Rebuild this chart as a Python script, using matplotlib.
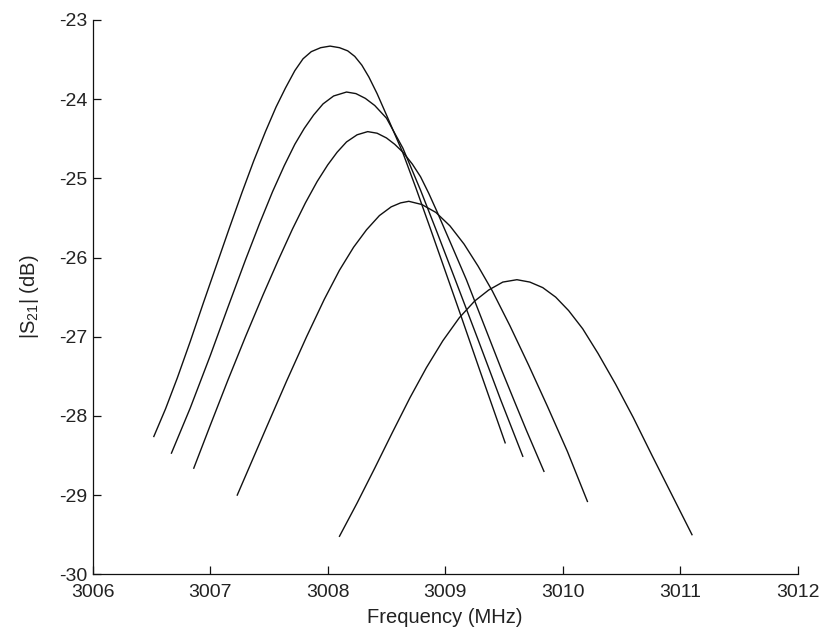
import matplotlib
matplotlib.use("Agg")
import matplotlib.pyplot as plt

plt.rcParams['font.family'] = ['Liberation Sans', 'DejaVu Sans']

# Curve data (frequency in MHz, |S21| in dB)
freq_a = [3006.52, 3006.62, 3006.72, 3006.83, 3006.94, 3007.05, 3007.16, 3007.27, 3007.37,
          3007.47, 3007.56, 3007.64, 3007.72, 3007.79, 3007.86, 3007.94, 3008.02, 3008.10,
          3008.17, 3008.23, 3008.29, 3008.35, 3008.42, 3008.50, 3008.64, 3008.75, 3008.87,
          3009.00, 3009.13, 3009.30, 3009.51]
s21_a = [-28.26, -27.91, -27.52, -27.06, -26.58, -26.11, -25.64, -25.18, -24.78,
         -24.41, -24.10, -23.86, -23.64, -23.49, -23.40, -23.35, -23.33, -23.35,
         -23.39, -23.46, -23.57, -23.72, -23.93, -24.20, -24.68, -25.12, -25.62,
         -26.17, -26.72, -27.45, -28.34]

freq_b = [3006.67, 3006.83, 3007.00, 3007.15, 3007.30, 3007.42, 3007.53, 3007.63, 3007.72,
          3007.80, 3007.88, 3007.96, 3008.05, 3008.16, 3008.24, 3008.32, 3008.40, 3008.50,
          3008.64, 3008.79, 3008.93, 3009.08, 3009.28, 3009.47, 3009.66]
s21_b = [-28.47, -27.90, -27.24, -26.63, -26.03, -25.57, -25.17, -24.84, -24.57,
         -24.37, -24.20, -24.06, -23.96, -23.91, -23.93, -23.99, -24.08, -24.24,
         -24.62, -25.15, -25.68, -26.26, -27.04, -27.79, -28.51]

freq_c = [3006.86, 3007.00, 3007.15, 3007.30, 3007.45, 3007.58, 3007.70, 3007.81, 3007.91,
          3008.00, 3008.08, 3008.16, 3008.25, 3008.34, 3008.42, 3008.50, 3008.57, 3008.64,
          3008.72, 3008.79, 3008.86, 3008.93, 3009.07, 3009.18, 3009.28, 3009.38, 3009.48,
          3009.59, 3009.69, 3009.84]
s21_c = [-28.66, -28.12, -27.55, -27.00, -26.47, -26.03, -25.64, -25.31, -25.04,
         -24.83, -24.67, -24.54, -24.45, -24.41, -24.43, -24.49, -24.57, -24.67,
         -24.82, -24.98, -25.19, -25.42, -25.90, -26.28, -26.66, -27.04, -27.42,
         -27.82, -28.18, -28.70]

freq_d = [3007.23, 3007.48, 3007.65, 3007.82, 3007.97, 3008.10, 3008.22, 3008.33, 3008.44,
          3008.54, 3008.62, 3008.69, 3008.80, 3008.92, 3009.04, 3009.16, 3009.28, 3009.40,
          3009.55, 3009.71, 3009.87, 3010.04, 3010.21]
s21_d = [-29.00, -28.14, -27.56, -27.00, -26.53, -26.16, -25.87, -25.65, -25.47,
         -25.36, -25.31, -25.29, -25.33, -25.43, -25.60, -25.83, -26.11, -26.42,
         -26.86, -27.36, -27.88, -28.45, -29.08]

freq_e = [3008.10, 3008.25, 3008.40, 3008.55, 3008.70, 3008.84, 3008.98, 3009.12, 3009.25,
          3009.37, 3009.49, 3009.61, 3009.72, 3009.83, 3009.94, 3010.05, 3010.17, 3010.30,
          3010.45, 3010.60, 3010.76, 3010.93, 3011.10]
s21_e = [-29.52, -29.10, -28.66, -28.21, -27.77, -27.39, -27.05, -26.76, -26.55,
         -26.41, -26.31, -26.28, -26.31, -26.38, -26.50, -26.67, -26.90, -27.21,
         -27.60, -28.02, -28.50, -29.00, -29.50]

x_ticks = [3006, 3007, 3008, 3009, 3010, 3011, 3012]
y_ticks = [-30, -29, -28, -27, -26, -25, -24, -23]

fig = plt.figure(figsize=(8.22, 6.34), dpi=100)
ax = fig.add_axes([0.1128, 0.0942, 0.8577, 0.8743])

for fx, sy in [(freq_a, s21_a), (freq_b, s21_b), (freq_c, s21_c),
               (freq_d, s21_d), (freq_e, s21_e)]:
    ax.plot(fx, sy, color='#111111', linewidth=1.0, solid_joinstyle='round')

ax.set_xlim(3006, 3012)
ax.set_ylim(-30, -23)
ax.set_xticks(x_ticks)
ax.set_yticks(y_ticks)
ax.set_xticklabels([str(v) for v in x_ticks])
ax.set_yticklabels([str(v) for v in y_ticks])

for side in ['top', 'right']:
    ax.spines[side].set_visible(False)
for side in ['left', 'bottom']:
    ax.spines[side].set_linewidth(0.9)
    ax.spines[side].set_color('#111111')

ax.tick_params(direction='in', length=5.5, width=0.9, colors='#111111',
               labelsize=14, labelcolor='#222222')
ax.tick_params(axis='x', pad=7)
ax.tick_params(axis='y', pad=4)

ax.set_xlabel('Frequency (MHz)', fontsize=14.5, color='#222222', labelpad=5)
ax.set_ylabel(r'|S$_{\mathregular{21}}$| (dB)', fontsize=14.5, color='#222222', labelpad=13)

fig.savefig('out.png', dpi=100, facecolor='white')
